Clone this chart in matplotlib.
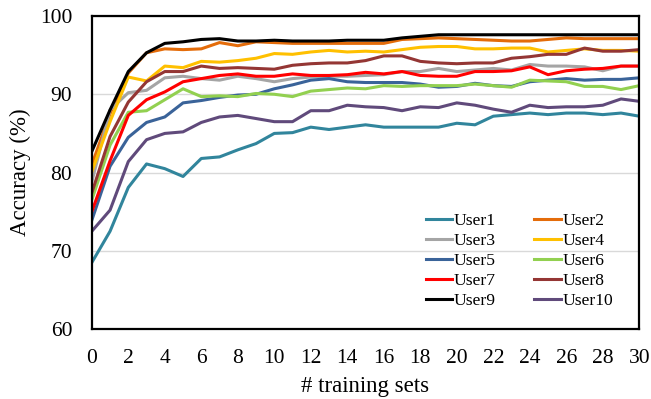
import numpy as np
import matplotlib
matplotlib.use("Agg")
import matplotlib.pyplot as plt

plt.rcParams['font.family'] = ['Liberation Serif', 'DejaVu Serif']

x = np.arange(0, 31)

user1 = [68.5, 72.5, 78.1, 81.1, 80.5, 79.5, 81.8, 82.0, 82.9, 83.7, 85.0, 85.1, 85.8, 85.5, 85.8, 86.1,
         85.8, 85.8, 85.8, 85.8, 86.3, 86.1, 87.2, 87.4, 87.6, 87.4, 87.6, 87.6, 87.4, 87.6, 87.2]
user2 = [81.0, 87.5, 92.7, 95.3, 95.8, 95.7, 95.8, 96.6, 96.2, 96.7, 96.6, 96.5, 96.5, 96.5, 96.5, 96.5,
         96.5, 97.0, 97.1, 97.2, 97.1, 97.0, 96.9, 96.8, 96.8, 97.0, 97.2, 97.1, 97.1, 97.1, 97.1]
user3 = [78.8, 88.0, 90.2, 90.5, 92.1, 92.3, 92.0, 91.8, 92.3, 92.0, 91.6, 92.0, 92.2, 92.3, 92.3, 92.4,
         92.5, 92.9, 92.9, 93.3, 92.9, 93.1, 93.3, 93.1, 93.8, 93.6, 93.6, 93.5, 93.0, 93.6, 93.6]
user4 = [80.1, 86.5, 92.2, 91.7, 93.6, 93.4, 94.2, 94.1, 94.3, 94.6, 95.2, 95.1, 95.4, 95.6, 95.4, 95.5,
         95.4, 95.7, 96.0, 96.1, 96.1, 95.8, 95.8, 95.9, 95.9, 95.4, 95.6, 95.8, 95.6, 95.6, 95.5]
user5 = [73.9, 80.8, 84.5, 86.4, 87.1, 88.9, 89.2, 89.6, 89.9, 90.0, 90.7, 91.2, 91.8, 92.0, 91.6, 91.5,
         91.5, 91.5, 91.3, 90.9, 91.0, 91.4, 91.1, 91.0, 91.6, 91.8, 92.0, 91.8, 91.9, 91.9, 92.1]
user6 = [76.5, 83.5, 87.7, 87.9, 89.3, 90.7, 89.7, 89.8, 89.7, 90.1, 90.0, 89.7, 90.4, 90.6, 90.8, 90.7,
         91.1, 91.0, 91.1, 91.1, 91.1, 91.3, 91.1, 90.9, 91.8, 91.7, 91.6, 91.0, 91.0, 90.6, 91.1]
user7 = [75.0, 81.5, 87.3, 89.3, 90.3, 91.6, 92.0, 92.4, 92.6, 92.3, 92.3, 92.6, 92.4, 92.4, 92.5, 92.8,
         92.6, 92.9, 92.4, 92.3, 92.3, 92.9, 92.9, 93.0, 93.5, 92.5, 93.0, 93.2, 93.3, 93.6, 93.6]
user8 = [77.4, 84.6, 89.0, 91.6, 92.9, 92.9, 93.6, 93.3, 93.4, 93.3, 93.2, 93.7, 93.9, 94.0, 94.0, 94.3,
         94.9, 94.9, 94.2, 94.0, 93.9, 94.0, 94.0, 94.6, 94.8, 95.1, 95.1, 95.9, 95.5, 95.5, 95.7]
user9 = [82.7, 88.0, 92.9, 95.3, 96.5, 96.7, 97.0, 97.1, 96.8, 96.8, 96.9, 96.8, 96.8, 96.8, 96.9, 96.9,
         96.9, 97.2, 97.4, 97.6, 97.6, 97.6, 97.6, 97.6, 97.6, 97.6, 97.6, 97.6, 97.6, 97.6, 97.6]
user10 = [72.5, 75.2, 81.4, 84.2, 85.0, 85.2, 86.4, 87.1, 87.3, 86.9, 86.5, 86.5, 87.9, 87.9, 88.6, 88.4,
          88.3, 87.9, 88.4, 88.3, 88.9, 88.6, 88.1, 87.7, 88.6, 88.3, 88.4, 88.4, 88.6, 89.4, 89.1]

series = [user1, user2, user3, user4, user5, user6, user7, user8, user9, user10]
labels = ["User1", "User2", "User3", "User4", "User5", "User6", "User7", "User8", "User9", "User10"]
colors = ["#31859C", "#E46C0A", "#A5A5A5", "#FFC000", "#3A6399",
          "#92D050", "#FF0000", "#943634", "#000000", "#604A7B"]

fig = plt.figure(figsize=(6.51, 3.99), dpi=100)
ax = fig.add_axes([0.141, 0.175, 0.841, 0.785])

lines = []
for vals, lab, col in zip(series, labels, colors):
    ln, = ax.plot(x, vals, color=col, lw=2.2, label=lab)
    lines.append(ln)

ax.set_xlim(0, 30)
ax.set_ylim(60, 100)
ax.set_xticks(range(0, 31, 2))
ax.set_yticks(range(60, 101, 10))
ax.tick_params(length=0, labelsize=15.5)
ax.tick_params(axis="y", pad=14)
ax.tick_params(axis="x", pad=14)
ax.yaxis.grid(True, color="#D9D9D9", lw=1)
ax.set_axisbelow(True)
for s in ax.spines.values():
    s.set_linewidth(1.6)
    s.set_color("black")

ax.set_xlabel("# training sets", fontsize=16.5)
ax.set_ylabel("Accuracy (%)", fontsize=16.5)
ax.xaxis.set_label_coords(0.5, -0.182)
ax.xaxis.label.set_va("center")
ax.yaxis.set_label_coords(-0.13, 0.5)
ax.yaxis.label.set_va("center")

# legend is filled row by row in the reference: reorder for column-major fill
order = [0, 2, 4, 6, 8, 1, 3, 5, 7, 9]
leg = ax.legend([lines[i] for i in order], [labels[i] for i in order],
                ncol=2, loc="lower right", bbox_to_anchor=(0.969, 0.036), frameon=False,
                fontsize=12.6, handlelength=1.5, handletextpad=0.12, columnspacing=2.2,
                labelspacing=0.22, borderpad=0)

fig.savefig("out.png", dpi=100)
